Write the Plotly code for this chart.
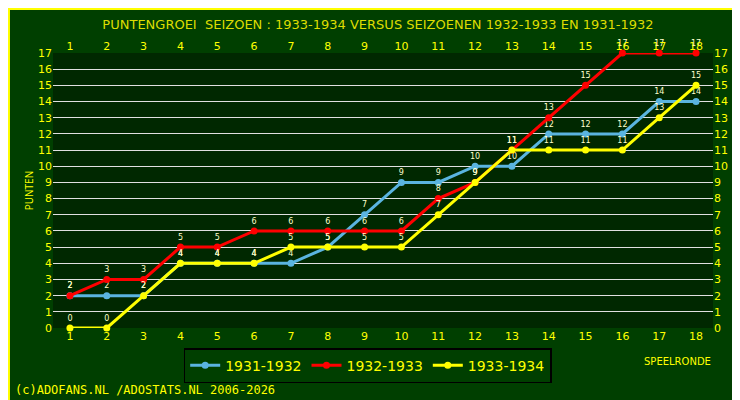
import plotly.graph_objects as go

rounds = list(range(1, 19))
s1931 = [2,2,2,4,4,4,4,5,7,9,9,10,10,12,12,12,14,14]
s1932 = [2,3,3,5,5,6,6,6,6,6,8,9,11,13,15,17,17,17]
s1933 = [0,0,2,4,4,4,5,5,5,5,7,9,11,11,11,11,13,15]
names = ["1931-1932", "1932-1933", "1933-1934"]
colors = ["#5ab4e0", "#ff0000", "#ffff00"]

fig = go.Figure()
for name, vals, c in zip(names, [s1931, s1932, s1933], colors):
    fig.add_trace(go.Scatter(
        x=rounds, y=vals, name=name, mode="lines+markers+text", cliponaxis=False,
        line=dict(color=c, width=3), marker=dict(color=c, size=7),
        text=[str(v) for v in vals], textposition="top center",
        textfont=dict(color="#ffffcc", size=8, family="DejaVu Sans")))
fig.add_trace(go.Scatter(x=rounds, y=s1933, xaxis="x2", yaxis="y2",
                         mode="markers", marker=dict(opacity=0), showlegend=False, hoverinfo="skip"))

tick = dict(color="#ffff00", size=11, family="DejaVu Sans")
fig.update_layout(
    width=740, height=400,
    margin=dict(l=45, r=35, t=45, b=80, autoexpand=False),
    paper_bgcolor="#003f00", plot_bgcolor="#002800",
    title=dict(text="PUNTENGROEI  SEIZOEN : 1933-1934 VERSUS SEIZOENEN 1932-1933 EN 1931-1932",
               x=0.5, y=0.97, xanchor="center", font=dict(color="#dddd00", size=13, family="DejaVu Sans")),
    xaxis=dict(range=[0.54, 18.46], tickvals=rounds, tickfont=tick, showgrid=False,
               zeroline=False, showline=False, ticks="", automargin=False),
    xaxis2=dict(range=[0.54, 18.46], tickvals=rounds, tickfont=tick, overlaying="x",
                side="top", showgrid=False, zeroline=False, showline=False, automargin=False),
    yaxis=dict(range=[0, 17], dtick=1, tickfont=tick, gridcolor="#e0e0e0", gridwidth=1.2,
               zeroline=False, showline=False, automargin=False,
               title=dict(text="PUNTEN", font=dict(color="#ffff00", size=10), standoff=2)),
    yaxis2=dict(range=[0, 17], dtick=1, tickfont=tick, overlaying="y", side="right",
                showgrid=False, zeroline=False, automargin=False),
    legend=dict(orientation="h", x=0.198, y=-0.073, xanchor="left", yanchor="top",
                bgcolor="#003f00", bordercolor="#000000", borderwidth=1.5,
                font=dict(color="#ffff00", size=14, family="DejaVu Sans")),
    showlegend=True,
)
fig.add_annotation(text="SPEELRONDE", xref="paper", yref="paper", x=1.0, y=-0.12,
                   xanchor="right", yanchor="middle", showarrow=False,
                   font=dict(color="#ffff00", size=10, family="DejaVu Sans"))
fig.add_annotation(text="(c)ADOFANS.NL /ADOSTATS.NL 2006-2026", xref="paper", yref="paper",
                   x=-0.06, y=-0.225, xanchor="left", yanchor="middle", showarrow=False,
                   font=dict(color="#ffff00", size=12, family="DejaVu Sans Mono"))
fig.add_shape(type="rect", xref="paper", yref="paper", x0=-0.0667, x1=1.0515, y0=-0.287, y1=1.16,
              line=dict(color="#ffff00", width=2))
fig.write_html("out.html")
